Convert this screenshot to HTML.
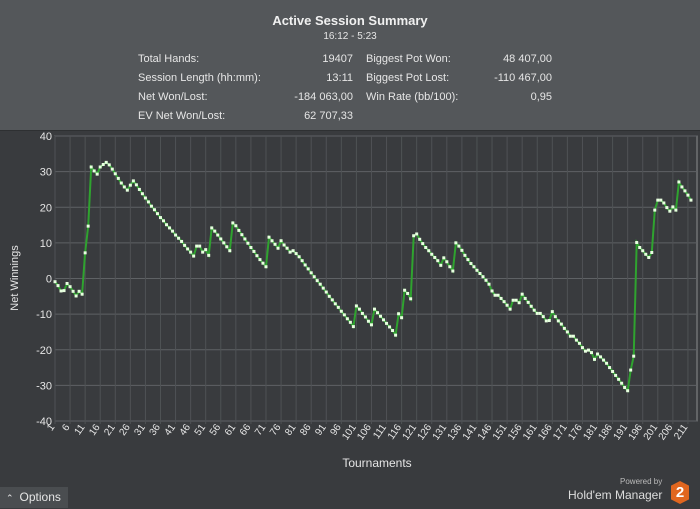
<!DOCTYPE html>
<html><head><meta charset="utf-8"><style>
body{margin:0;width:700px;height:508px;overflow:hidden;background:#393b3e;font-family:"Liberation Sans",sans-serif;}
#hdr{position:absolute;left:0;top:0;width:700px;height:130px;background:#54575a;border-bottom:1px solid #2e3032;}
.t{position:absolute;color:#e6e6e6;font-size:11px;white-space:nowrap}
.r{text-align:right}
</style></head><body>
<div id="hdr">
<div class="t" style="left:0;width:700px;text-align:center;top:13px;font-size:13px;font-weight:bold;color:#f0f0f0">Active Session Summary</div>
<div class="t" style="left:0;width:700px;text-align:center;top:31px;font-size:10px">16:12 - 5:23</div>
<div class="t" style="left:138px;top:53px">Total Hands:</div>
<div class="t r" style="left:250px;width:103px;top:53px">19407</div>
<div class="t" style="left:138px;top:72px">Session Length (hh:mm):</div>
<div class="t r" style="left:250px;width:103px;top:72px">13:11</div>
<div class="t" style="left:138px;top:91px">Net Won/Lost:</div>
<div class="t r" style="left:250px;width:103px;top:91px">-184 063,00</div>
<div class="t" style="left:138px;top:110px">EV Net Won/Lost:</div>
<div class="t r" style="left:250px;width:103px;top:110px">62 707,33</div>
<div class="t" style="left:366px;top:53px">Biggest Pot Won:</div>
<div class="t r" style="left:450px;width:102px;top:53px">48 407,00</div>
<div class="t" style="left:366px;top:72px">Biggest Pot Lost:</div>
<div class="t r" style="left:450px;width:102px;top:72px">-110 467,00</div>
<div class="t" style="left:366px;top:91px">Win Rate (bb/100):</div>
<div class="t r" style="left:450px;width:102px;top:91px">0,95</div>
</div>
<svg id="chart" width="700" height="508" style="position:absolute;left:0;top:0" xmlns="http://www.w3.org/2000/svg"></svg>
<div style="position:absolute;left:0;top:487px;width:68px;height:21px;background:#4a4d50;color:#e6e6e6;font-size:12px;line-height:21px"><span style="font-size:9px;margin:0 6px 0 6px">&#8963;</span>Options</div>
<div class="t" style="left:620px;top:477px;font-size:8px;color:#bbb">Powered by</div>
<div class="t" style="left:568px;top:488px;font-size:12px;color:#ddd">Hold'em Manager</div>
<div style="position:absolute;left:671px;top:481px;width:18px;height:23px;background:#e0661f;clip-path:polygon(50% 0,100% 20%,100% 80%,50% 100%,0 80%,0 20%);color:#fff;font-weight:bold;font-size:15px;text-align:center;line-height:23px">2</div>
<script>
const values=[-0.9,-2,-3.5,-3.4,-1.4,-2.3,-3.6,-4.9,-3.6,-4.4,7.2,14.7,31.3,30.2,29.3,31.3,32,32.6,31.9,30.7,29.4,28.1,26.8,25.7,24.8,26.2,27.4,26.3,25,23.8,22.6,21.5,20.3,19.3,18.2,17.1,16.2,15.1,14.2,13.3,12.2,11.3,10.4,9.3,8.3,7.4,6.3,9.1,9.1,7.4,8.1,6.5,14.2,13.3,12.2,11.1,10,8.9,7.8,15.6,14.8,13.5,12.3,11.1,9.9,8.7,7.6,6.4,5.3,4.3,3.3,11.6,10.6,9.6,8.5,10.6,9.4,8.5,7.4,7.8,7,6.1,5,3.8,2.7,1.6,0.5,-0.6,-1.6,-2.7,-3.8,-5,-6,-7.1,-8.1,-9.2,-10.2,-11.3,-12.3,-13.5,-7.7,-8.6,-9.8,-10.8,-12,-13,-8.6,-9.6,-10.6,-11.6,-12.6,-13.6,-14.6,-15.9,-9.9,-11,-3.3,-4.2,-5.7,12,12.5,11,9.8,8.7,7.8,6.8,5.9,5,3.7,5.8,4.7,3.3,2.1,10,9.1,7.9,6.5,5.3,4.2,3.3,2.3,1.4,0.5,-0.5,-1.6,-3.5,-4.7,-4.7,-5.6,-6.5,-7.5,-8.6,-6.1,-6.1,-6.8,-4.4,-5.6,-6.7,-7.8,-8.9,-9.8,-9.8,-10.7,-11.9,-11.8,-9.3,-10.7,-11.9,-12.8,-14,-15,-16.2,-16.2,-17.3,-18.2,-19.4,-20.4,-20.1,-20.8,-22.7,-21.2,-22,-22.9,-23.8,-25,-26.1,-27.2,-28.3,-29.4,-30.6,-31.5,-25.7,-21.8,10.1,8.7,7.8,6.8,5.9,7.3,19.2,22,22,21.2,19.9,18.9,20.1,19.2,27.1,25.7,24.6,23.4,22];
const yTicks=[40,30,20,10,0,-10,-20,-30,-40];
const xTickLabels=[1,6,11,16,21,26,31,36,41,46,51,56,61,66,71,76,81,86,91,96,101,106,111,116,121,126,131,136,141,146,151,156,161,166,171,176,181,186,191,196,201,206,211];
const svg=document.getElementById('chart');const NS='http://www.w3.org/2000/svg';
const L=55,R=697,T=136,B=421,step=3.014;
const X=i=>L+(i-1)*step;const Y=v=>T+(40-v)/80*(B-T);
function mk(t,a){const e=document.createElementNS(NS,t);for(const k in a)e.setAttribute(k,a[k]);svg.appendChild(e);return e;}
const bg=mk('rect',{x:L,y:T,width:R-L,height:B-T,fill:'#393b3e',stroke:'#8a8c8e'});


yTicks.forEach(v=>{const g=mk('line',{x1:L,x2:R,y1:Y(v),y2:Y(v),stroke:'#5f6265','stroke-width':1});


const t=mk('text',{x:L-3,y:Y(v)+4,'text-anchor':'end',fill:'#e6e6e6','font-size':'11','font-family':'Liberation Sans'});t.textContent=v;

});
xTickLabels.forEach(n=>{const x=X(n);const g=mk('line',{x1:x,x2:x,y1:T,y2:B+3,stroke:'#4f5255','stroke-width':1});


const t=mk('text',{x:x,y:B+6,'text-anchor':'end',fill:'#e6e6e6','font-size':'10','font-family':'Liberation Sans',transform:`rotate(-55 ${x} ${B+6})`});t.textContent=n;

});
const pts=values.map((v,i)=>X(i+1).toFixed(1)+','+Y(v).toFixed(1)).join(' ');
const line=mk('polyline',{points:pts,fill:'none',stroke:'#2fa32f','stroke-width':2});


values.forEach((v,i)=>{const c=mk('rect',{x:X(i+1)-1.5,y:Y(v)-1.5,width:3,height:3,fill:'#e8ffe0'});

});
const yt=mk('text',{x:18,y:278,'text-anchor':'middle',fill:'#e6e6e6','font-size':'11','font-family':'Liberation Sans',transform:'rotate(-90 18 278)'});yt.textContent='Net Winnings';


const xt=mk('text',{x:377,y:467,'text-anchor':'middle',fill:'#e6e6e6','font-size':'12','font-family':'Liberation Sans'});xt.textContent='Tournaments';


</script>
</body></html>
